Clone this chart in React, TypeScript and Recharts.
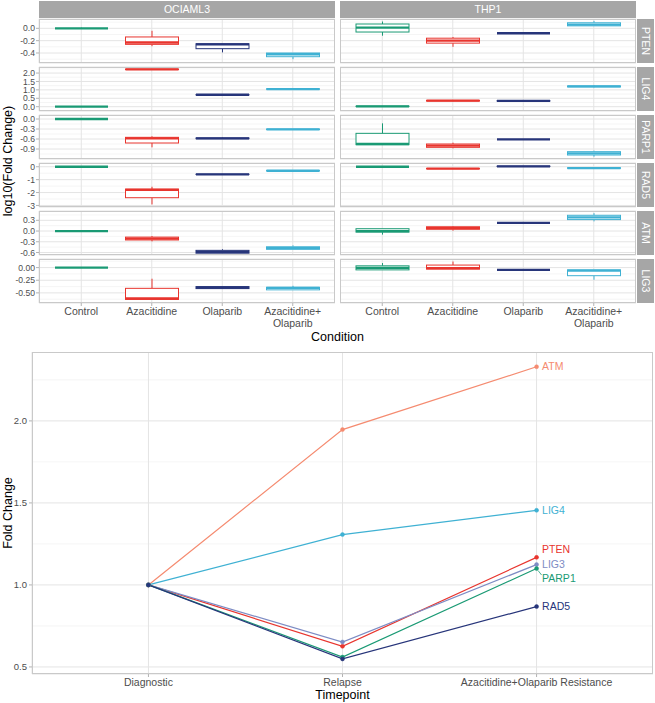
import React from 'react';
import { ComposedChart, LineChart, Bar, Line, XAxis, YAxis, CartesianGrid } from 'recharts';

const FONT = '"Liberation Sans", Arial, Helvetica, sans-serif';

// ---------- Top: faceted box plots (log10 fold change) ----------
const conditions = ['Control', 'Azacitidine', 'Olaparib', 'Azacitidine+\nOlaparib'];
const cellLines = ['OCIAML3', 'THP1'];
const genes = ['PTEN', 'LIG4', 'PARP1', 'RAD5', 'ATM', 'LIG3'];
const conditionColors = ['#1a9a74', '#e8352e', '#27357a', '#3fb1d3'];

// each entry: [min, q1, median, q3, max]
const ptenOCIAML3 = [[0, 0, 0, 0, 0.01], [-0.29, -0.26, -0.23, -0.14, -0.04], [-0.39, -0.33, -0.26, -0.25, -0.25], [-0.5, -0.46, -0.42, -0.4, -0.4]];
const ptenTHP1 = [[-0.12, -0.06, 0.01, 0.07, 0.11], [-0.3, -0.24, -0.2, -0.16, -0.14], [-0.08, -0.08, -0.08, -0.08, -0.08], [0.04, 0.04, 0.06, 0.09, 0.12]];
const lig4OCIAML3 = [[0, 0, 0, 0, 0], [2.2, 2.21, 2.22, 2.23, 2.24], [0.69, 0.7, 0.71, 0.72, 0.74], [1.03, 1.04, 1.05, 1.06, 1.08]];
const lig4THP1 = [[0, 0.01, 0.02, 0.03, 0.03], [0.33, 0.34, 0.36, 0.37, 0.38], [0.33, 0.34, 0.35, 0.35, 0.35], [1.15, 1.18, 1.21, 1.23, 1.26]];
const parp1OCIAML3 = [[0, 0, 0, 0, 0.01], [-0.85, -0.72, -0.58, -0.55, -0.52], [-0.6, -0.59, -0.58, -0.57, -0.56], [-0.32, -0.315, -0.31, -0.305, -0.3]];
const parp1THP1 = [[-0.77, -0.77, -0.75, -0.43, -0.13], [-0.88, -0.85, -0.8, -0.75, -0.71], [-0.61, -0.61, -0.61, -0.61, -0.61], [-1.13, -1.08, -1.03, -0.98, -0.95]];
const rad5OCIAML3 = [[0, 0, 0, 0, 0], [-2.92, -2.4, -1.8, -1.73, -1.55], [-0.62, -0.6, -0.59, -0.58, -0.56], [-0.32, -0.31, -0.31, -0.3, -0.3]];
const rad5THP1 = [[0, 0, 0, 0, 0], [-0.16, -0.15, -0.15, -0.14, -0.13], [0.02, 0.03, 0.03, 0.04, 0.04], [-0.14, -0.12, -0.1, -0.08, -0.06]];
const atmOCIAML3 = [[0, 0, 0, 0, 0], [-0.29, -0.25, -0.21, -0.17, -0.14], [-0.62, -0.62, -0.58, -0.54, -0.51], [-0.51, -0.51, -0.48, -0.44, -0.4]];
const atmTHP1 = [[-0.1, -0.03, 0, 0.065, 0.065], [0.01, 0.05, 0.08, 0.12, 0.14], [0.23, 0.23, 0.23, 0.23, 0.23], [0.27, 0.32, 0.38, 0.44, 0.5]];
const lig3OCIAML3 = [[0, 0, 0, 0, 0], [-0.63, -0.63, -0.61, -0.41, -0.22], [-0.415, -0.415, -0.395, -0.375, -0.375], [-0.44, -0.44, -0.4, -0.39, -0.36]];
const lig3THP1 = [[-0.045, -0.045, -0.005, 0.035, 0.09], [-0.03, -0.03, -0.01, 0.05, 0.12], [-0.045, -0.045, -0.045, -0.045, -0.045], [-0.24, -0.16, -0.06, -0.045, -0.045]];

// axis ranges and ticks per gene row
const ptenRange = [-0.562, 0.151];
const lig4Range = [-0.256, 2.36];
const parp1Range = [-1.2, 0.12];
const rad5Range = [-3.12, 0.29];
const atmRange = [-0.67, 0.56];
const lig3Range = [-0.7, 0.17];

const ptenTicks = [-0.4, -0.2, 0];
const lig4Ticks = [0, 0.5, 1, 1.5, 2];
const parp1Ticks = [-0.9, -0.6, -0.3, 0];
const rad5Ticks = [-3, -2, -1, 0];
const atmTicks = [-0.6, -0.3, 0, 0.3];
const lig3Ticks = [-0.5, -0.25, 0];

const ptenMinor = [-0.5, -0.3, -0.1, 0.1];
const lig4Minor = [0.25, 0.75, 1.25, 1.75, 2.25];
const parp1Minor = [-1.05, -0.75, -0.45, -0.15];
const rad5Minor = [-2.5, -1.5, -0.5];
const atmMinor = [-0.45, -0.15, 0.15, 0.45];
const lig3Minor = [-0.625, -0.375, -0.125, 0.125];

const tickDecimals = [1, 1, 1, 0, 1, 2];

const rowStats = [
  [ptenOCIAML3, ptenTHP1],
  [lig4OCIAML3, lig4THP1],
  [parp1OCIAML3, parp1THP1],
  [rad5OCIAML3, rad5THP1],
  [atmOCIAML3, atmTHP1],
  [lig3OCIAML3, lig3THP1],
];
const rowRanges = [ptenRange, lig4Range, parp1Range, rad5Range, atmRange, lig3Range];
const rowTicks = [ptenTicks, lig4Ticks, parp1Ticks, rad5Ticks, atmTicks, lig3Ticks];
const rowMinor = [ptenMinor, lig4Minor, parp1Minor, rad5Minor, atmMinor, lig3Minor];

// ---------- Bottom: fold change over timepoints ----------
const timepoints = ['Diagnostic', 'Relapse', 'Azacitidine+Olaparib Resistance'];
const lineGenes = ['ATM', 'LIG4', 'PTEN', 'LIG3', 'PARP1', 'RAD5'];
const atmFold = [1.0, 1.947, 2.33];
const lig4Fold = [1.0, 1.307, 1.455];
const ptenFold = [1.0, 0.626, 1.168];
const lig3Fold = [1.0, 0.652, 1.124];
const parp1Fold = [1.0, 0.56, 1.1];
const rad5Fold = [1.0, 0.549, 0.868];
const foldTicks = [0.5, 1.0, 1.5, 2.0];
const foldMinor = [0.75, 1.25, 1.75, 2.25];
const foldRange = [0.457, 2.42];

const lineColors: Record<string, string> = {
  ATM: '#f58b70',
  LIG4: '#3fb1d3',
  PTEN: '#e8352e',
  LIG3: '#7d8cc4',
  PARP1: '#1a9a74',
  RAD5: '#27357a',
};
const labelDy: Record<string, number> = { PTEN: -8, PARP1: 10 };

const foldSeries = [atmFold, lig4Fold, ptenFold, lig3Fold, parp1Fold, rad5Fold];
const lineData = timepoints.map((t, i) => {
  const row: any = { tp: i + 1, name: t };
  lineGenes.forEach((g, k) => {
    row[g] = foldSeries[k][i];
  });
  return row;
});

// ---------- layout ----------
const PANEL_W = 296;
const PANEL_H = 44;
const PAD = 5;
const Y_AXIS_W = 39;
const X_AXIS_H = 30;
const COL_LEFT = [39, 340];
const rowTop = (r: number) => 19 + 48 * r;

const GRID_MAJOR = '#e4e4e4';
const GRID_MINOR = '#efefef';
const BORDER = '#c9c9c9';
const STRIP = '#a6a6a6';
const TICK_TEXT = '#4d4d4d';

const CondTick = (props: any) => {
  const { x, y, payload } = props;
  const lines = String(payload.value).split('\n');
  return (
    <text x={x} y={y} textAnchor="middle" fill={TICK_TEXT} fontSize={10.5} fontFamily={FONT}>
      {lines.map((l, i) => (
        <tspan key={i} x={x} dy={i === 0 ? '0.71em' : '1.08em'}>
          {l}
        </tspan>
      ))}
    </text>
  );
};

function makeBoxShape(lo: number) {
  return (props: any) => {
    const { x, y, width, height, payload, index } = props;
    if (x == null || y == null || !payload) return <g />;
    const s: number[] = payload.stats;
    const color = conditionColors[index % conditionColors.length];
    const top = Math.min(y, y + height);
    const bottom = Math.max(y, y + height);
    const hi = s[4];
    const px = (v: number) => (hi === lo ? bottom : bottom - ((bottom - top) * (v - lo)) / (hi - lo));
    const cx = x + width / 2;
    const yMin = px(s[0]);
    const yQ1 = px(s[1]);
    const yMed = px(s[2]);
    const yQ3 = px(s[3]);
    const yMax = px(s[4]);
    return (
      <g>
        <line x1={cx} x2={cx} y1={yMax} y2={yQ3} stroke={color} strokeWidth={1} />
        <line x1={cx} x2={cx} y1={yQ1} y2={yMin} stroke={color} strokeWidth={1} />
        <rect x={x} y={yQ3} width={width} height={Math.max(0, yQ1 - yQ3)} fill="#ffffff" stroke={color} strokeWidth={1} />
        <line x1={x} x2={x + width} y1={yMed} y2={yMed} stroke={color} strokeWidth={2.3} />
      </g>
    );
  };
}

function BoxPanel(props: {
  stats: number[][];
  range: number[];
  ticks: number[];
  minor: number[];
  decimals: number;
  showY: boolean;
  showX: boolean;
}) {
  const { stats, range, ticks, minor, decimals, showY, showX } = props;
  const data = conditions.map((cond, i) => ({ cond, stats: stats[i] }));
  const width = (showY ? Y_AXIS_W : 0) + PANEL_W;
  const height = PANEL_H + PAD + (showX ? X_AXIS_H : PAD);
  const lo = range[0];
  return (
    <ComposedChart
      width={width}
      height={height}
      data={data}
      margin={{ top: PAD, right: 0, bottom: showX ? 0 : PAD, left: 0 }}
    >
      <CartesianGrid stroke={GRID_MINOR} strokeWidth={0.6} vertical={false} horizontalValues={minor} />
      <CartesianGrid stroke={GRID_MAJOR} strokeWidth={1} />
      <XAxis
        dataKey="cond"
        type="category"
        hide={!showX}
        height={showX ? X_AXIS_H : 0}
        padding={{ left: 7, right: 7 }}
        interval={0}
        tickSize={3}
        tickMargin={2}
        axisLine={false}
        tickLine={{ stroke: '#b3b3b3' }}
        tick={<CondTick />}
      />
      <YAxis
        type="number"
        domain={range}
        ticks={ticks}
        allowDataOverflow
        hide={!showY}
        width={Y_AXIS_W}
        tickSize={3}
        tickMargin={1}
        axisLine={false}
        tickLine={{ stroke: '#b3b3b3' }}
        tick={{ fill: TICK_TEXT, fontSize: 8.6, fontFamily: FONT }}
        tickFormatter={(v: any) => Number(v).toFixed(decimals)}
        interval={0}
      />
      <Bar
        dataKey={(d: any) => [lo, d.stats[4]]}
        barSize={53}
        isAnimationActive={false}
        shape={makeBoxShape(lo)}
      />
    </ComposedChart>
  );
}

function LineLabelFactory(name: string, color: string) {
  return (p: any) => {
    if (p.index !== 2 || p.x == null) return <g key={`l-${name}-${p.index}`} />;
    const dy = labelDy[name] || 0;
    return (
      <g key={`l-${name}-${p.index}`}>
        {name === 'PARP1' ? (
          <line x1={p.x + 1.5} y1={p.y + 2} x2={p.x + 5} y2={p.y + 6.5} stroke={color} strokeWidth={0.8} />
        ) : null}
        <text x={p.x + 5.5} y={p.y + dy} dy="0.35em" fill={color} fontSize={10.5} fontFamily={FONT}>
          {name}
        </text>
      </g>
    );
  };
}

export default function App() {
  return (
    <div
      style={{
        position: 'absolute',
        left: 0,
        top: 0,
        width: 655,
        height: 703,
        background: '#ffffff',
        fontFamily: FONT,
        overflow: 'hidden',
      }}
    >
      {genes.map((g, r) =>
        cellLines.map((cl, c) => (
          <div
            key={g + cl}
            style={{
              position: 'absolute',
              left: c === 0 ? COL_LEFT[0] - Y_AXIS_W : COL_LEFT[1],
              top: rowTop(r) - PAD,
            }}
          >
            <BoxPanel
              stats={rowStats[r][c]}
              range={rowRanges[r]}
              ticks={rowTicks[r]}
              minor={rowMinor[r]}
              decimals={tickDecimals[r]}
              showY={c === 0}
              showX={r === genes.length - 1}
            />
          </div>
        ))
      )}

      <div style={{ position: 'absolute', left: 0, top: 352 }}>
        <LineChart
          width={653}
          height={340}
          data={lineData}
          margin={{ top: 0, right: 0, bottom: 0, left: 0 }}
        >
          <CartesianGrid stroke={GRID_MINOR} strokeWidth={0.6} vertical={false} horizontalValues={foldMinor} />
          <CartesianGrid stroke={GRID_MAJOR} strokeWidth={1} />
          <XAxis
            dataKey="tp"
            type="number"
            domain={[0.4, 3.6]}
            ticks={[1, 2, 3]}
            allowDataOverflow
            interval={0}
            height={18}
            tickSize={3}
            tickMargin={2}
            axisLine={false}
            tickLine={{ stroke: '#b3b3b3' }}
            tick={{ fill: TICK_TEXT, fontSize: 10.5, fontFamily: FONT }}
            tickFormatter={(v: any) => timepoints[Number(v) - 1]}
          />
          <YAxis
            type="number"
            domain={foldRange}
            ticks={foldTicks}
            allowDataOverflow
            interval={0}
            width={32}
            tickSize={3}
            tickMargin={2}
            axisLine={false}
            tickLine={{ stroke: '#b3b3b3' }}
            tick={{ fill: TICK_TEXT, fontSize: 9.5, fontFamily: FONT }}
            tickFormatter={(v: any) => Number(v).toFixed(1)}
          />
          {lineGenes.map((g) => (
            <Line
              key={g}
              dataKey={g}
              type="linear"
              stroke={lineColors[g]}
              strokeWidth={1.2}
              dot={{ r: 2, fill: lineColors[g], stroke: lineColors[g], strokeWidth: 0.5 }}
              isAnimationActive={false}
              label={LineLabelFactory(g, lineColors[g])}
            />
          ))}
        </LineChart>
      </div>

      <svg
        width={655}
        height={703}
        style={{ position: 'absolute', left: 0, top: 0, pointerEvents: 'none' }}
        fontFamily={FONT}
      >
        {cellLines.map((cl, c) => (
          <g key={cl}>
            <rect x={COL_LEFT[c]} y={1} width={PANEL_W} height={17} fill={STRIP} />
            <text
              x={COL_LEFT[c] + PANEL_W / 2}
              y={9.5}
              dy="0.35em"
              textAnchor="middle"
              fill="#ffffff"
              fontSize={10.5}
            >
              {cl}
            </text>
          </g>
        ))}
        {genes.map((g, r) => (
          <g key={g}>
            <rect x={637} y={rowTop(r)} width={17} height={PANEL_H} fill={STRIP} />
            <text
              x={645.5}
              y={rowTop(r) + PANEL_H / 2}
              dy="0.35em"
              textAnchor="middle"
              fill="#ffffff"
              fontSize={10.5}
              transform={`rotate(90 645.5 ${rowTop(r) + PANEL_H / 2})`}
            >
              {g}
            </text>
            {cellLines.map((cl, c) => (
              <rect
                key={cl}
                x={COL_LEFT[c] + 0.5}
                y={rowTop(r) + 0.5}
                width={PANEL_W - 1}
                height={PANEL_H - 1}
                fill="none"
                stroke={BORDER}
                strokeWidth={1}
              />
            ))}
          </g>
        ))}
        <text
          x={8}
          y={161}
          dy="0.35em"
          textAnchor="middle"
          fill="#000000"
          fontSize={12.5}
          transform="rotate(-90 8 161)"
        >
          log10(Fold Change)
        </text>
        <text x={337.5} y={337} dy="0.35em" textAnchor="middle" fill="#000000" fontSize={12.5}>
          Condition
        </text>
        <text
          x={8}
          y={513}
          dy="0.35em"
          textAnchor="middle"
          fill="#000000"
          fontSize={12.5}
          transform="rotate(-90 8 513)"
        >
          Fold Change
        </text>
        <text x={342.5} y={695} dy="0.35em" textAnchor="middle" fill="#000000" fontSize={12.5}>
          Timepoint
        </text>
        <rect x={32.5} y={352.5} width={620} height={321} fill="none" stroke={BORDER} strokeWidth={1} />
      </svg>
    </div>
  );
}
